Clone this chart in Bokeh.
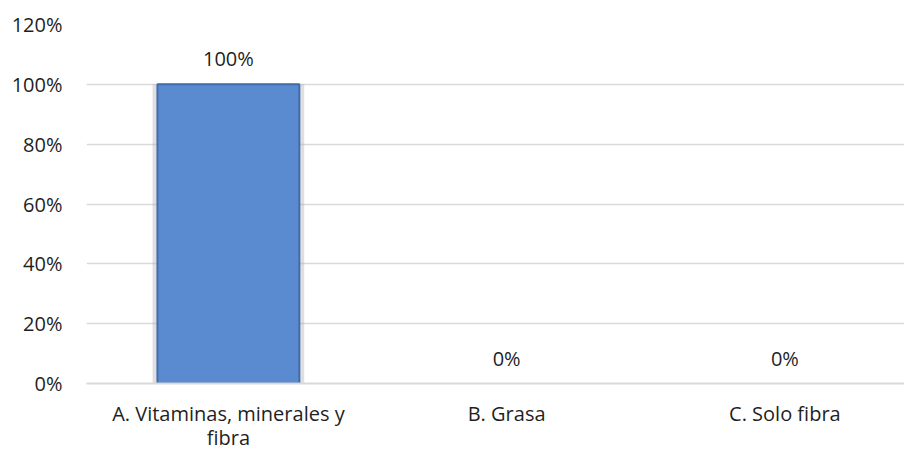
from bokeh.plotting import figure
from bokeh.models import Range1d, FixedTicker, NumeralTickFormatter, ColumnDataSource, CDSView, BooleanFilter
from bokeh.embed import file_html
from bokeh.resources import INLINE
from bokeh.core.properties import value

categories = ["A. Vitaminas, minerales y\nfibra", "B. Grasa", "C. Solo fibra"]
values = [1.00, 0.00, 0.00]
value_labels = ["100%", "0%", "0%"]
y_ticks = [0, 0.2, 0.4, 0.6, 0.8, 1.0, 1.2]

FONT = "Open Sans"
TXT = "#1f1f1f"
FS = "20px"

xs = list(range(len(categories)))
src = ColumnDataSource(dict(x=xs, top=values, lab=value_labels))
nonzero = CDSView(filter=BooleanFilter([v > 0 for v in values]))

p = figure(frame_width=818, frame_height=359, output_backend="svg", toolbar_location=None,
           x_range=Range1d(-0.51, 2.43), y_range=Range1d(0, 1.2),
           min_border_left=86, min_border_right=0, min_border_top=24, min_border_bottom=66)
p.outline_line_color = None
p.background_fill_color = "white"
p.border_fill_color = "white"

# shadow
p.vbar(x="x", top="top", bottom=0, width=0.545, source=src, view=nonzero,
       fill_color="#b0b0b0", fill_alpha=0.4, line_color=None)
# main bar
p.vbar(x="x", top="top", bottom=0, width=0.51, source=src, view=nonzero,
       fill_color="#5a8bd1", line_color="#3f6cab", line_width=2)

p.text(x="x", y="top", text="lab", source=src, text_align="center", text_baseline="bottom",
       y_offset=-12, text_font=value(FONT), text_font_size=FS, text_color=TXT)

p.xaxis.ticker = FixedTicker(ticks=xs)
p.xaxis.major_label_overrides = {i: c for i, c in enumerate(categories)}
p.xaxis.axis_line_color = "#d9d9d9"
p.xaxis.axis_line_width = 2
p.xaxis.major_tick_line_color = None
p.xaxis.minor_tick_line_color = None
p.xaxis.major_label_standoff = 10
p.xaxis.major_label_text_font = FONT
p.xaxis.major_label_text_font_size = FS
p.xaxis.major_label_text_color = TXT
p.xaxis.major_label_text_line_height = 0.9

p.yaxis.ticker = FixedTicker(ticks=y_ticks)
p.yaxis.formatter = NumeralTickFormatter(format="0%")
p.yaxis.axis_line_color = None
p.yaxis.major_tick_line_color = None
p.yaxis.minor_tick_line_color = None
p.yaxis.major_label_standoff = 18
p.yaxis.major_label_text_font = FONT
p.yaxis.major_label_text_font_size = FS
p.yaxis.major_label_text_color = TXT

p.xgrid.grid_line_color = None
p.ygrid.grid_line_color = "#d9d9d9"
p.ygrid.grid_line_width = 1.5

open("out.html", "w").write(file_html(p, INLINE))
